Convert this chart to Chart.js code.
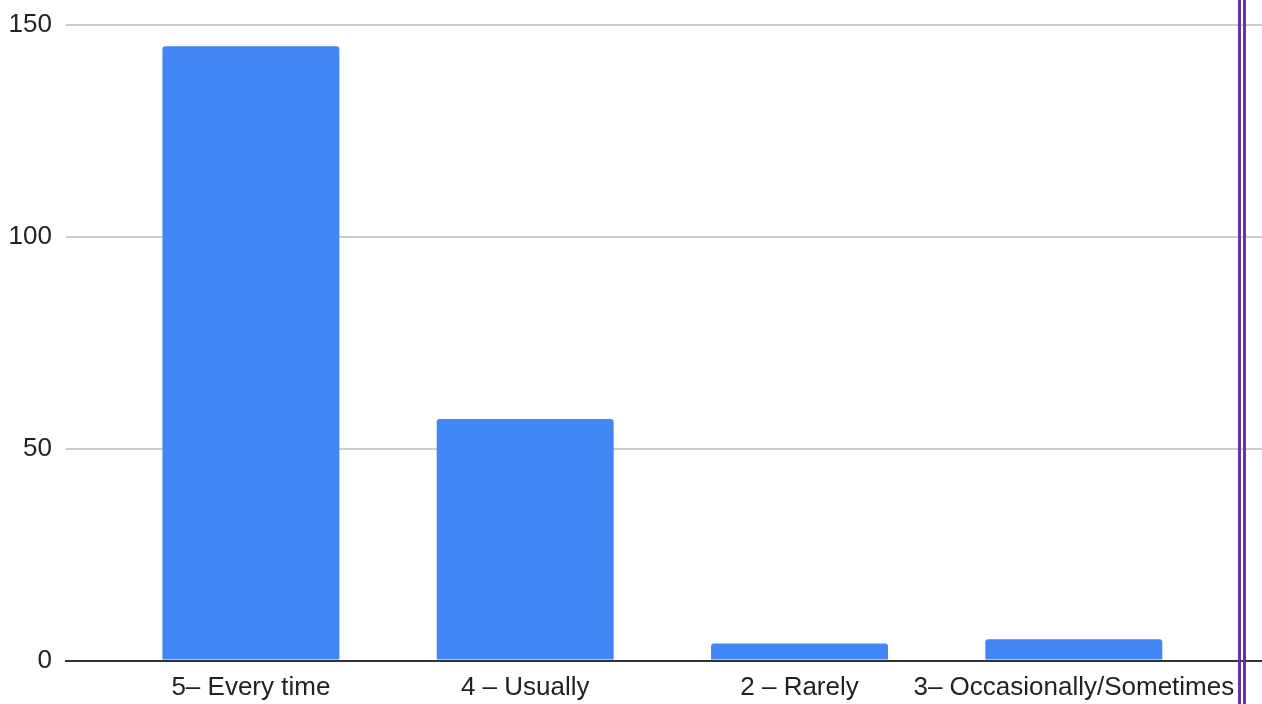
<!DOCTYPE html>
<html>
<head>
<meta charset="utf-8">
<script src="https://cdn.jsdelivr.net/npm/chart.js@4"></script>
<style>
  html, body { margin: 0; padding: 0; background: #fff; }
  #wrap { position: relative; width: 1262px; height: 704px; overflow: hidden; }
  canvas { display: block; }
  .vline { position: absolute; top: 0; height: 704px; width: 3px; background: #6a32a6; }
</style>
</head>
<body>
<div id="wrap">
  <canvas id="c" width="1262" height="704"></canvas>
  <div class="vline" style="left:1238px"></div>
  <div class="vline" style="left:1243px"></div>
</div>
<script>
const categories = ["5\u2013 Every time", "4 \u2013 Usually", "2 \u2013 Rarely", "3\u2013 Occasionally/Sometimes"];
const counts = [145, 57, 4, 5];
const yTicks = [0, 50, 100, 150];

const points = counts.map((v, i) => ({ x: i, y: v }));

new Chart(document.getElementById('c'), {
  type: 'bar',
  data: {
    datasets: [{
      data: points,
      backgroundColor: '#4285f4',
      borderWidth: 0,
      borderRadius: { topLeft: 3, topRight: 3, bottomLeft: 0, bottomRight: 0 },
      borderSkipped: 'bottom',
      categoryPercentage: 1,
      barPercentage: 0.645
    }]
  },
  options: {
    responsive: false,
    animation: false,
    devicePixelRatio: 1,
    layout: { padding: { left: 0, right: 0, top: 25, bottom: 0 } },
    plugins: { legend: { display: false }, tooltip: { enabled: false } },
    scales: {
      x: {
        type: 'linear',
        offset: false,
        min: -0.674,
        max: 3.686,
        grid: { display: false, drawTicks: false },
        border: { display: true, color: '#333333', width: 2 },
        afterBuildTicks: (scale) => { scale.ticks = categories.map((_, i) => ({ value: i })); },
        afterFit: (scale) => { scale.height = 43.5; scale.paddingLeft = 0; scale.paddingRight = 0; },
        ticks: {
          autoSkip: false,
          maxRotation: 0,
          padding: 11.5,
          color: '#222222',
          font: { family: '"Liberation Sans", Arial, sans-serif', size: 26 },
          callback: (v) => categories[v]
        }
      },
      y: {
        min: 0,
        max: 150,
        afterBuildTicks: (scale) => { scale.ticks = yTicks.map(v => ({ value: v })); },
        afterFit: (scale) => { scale.width = 66; scale.paddingTop = 0; scale.paddingBottom = 0; },
        grid: { color: '#cccccc', lineWidth: 2, drawTicks: false },
        border: { display: false },
        ticks: {
          padding: 14,
          color: '#222222',
          font: { family: '"Liberation Sans", Arial, sans-serif', size: 26 }
        }
      }
    }
  }
});
</script>
</body>
</html>
